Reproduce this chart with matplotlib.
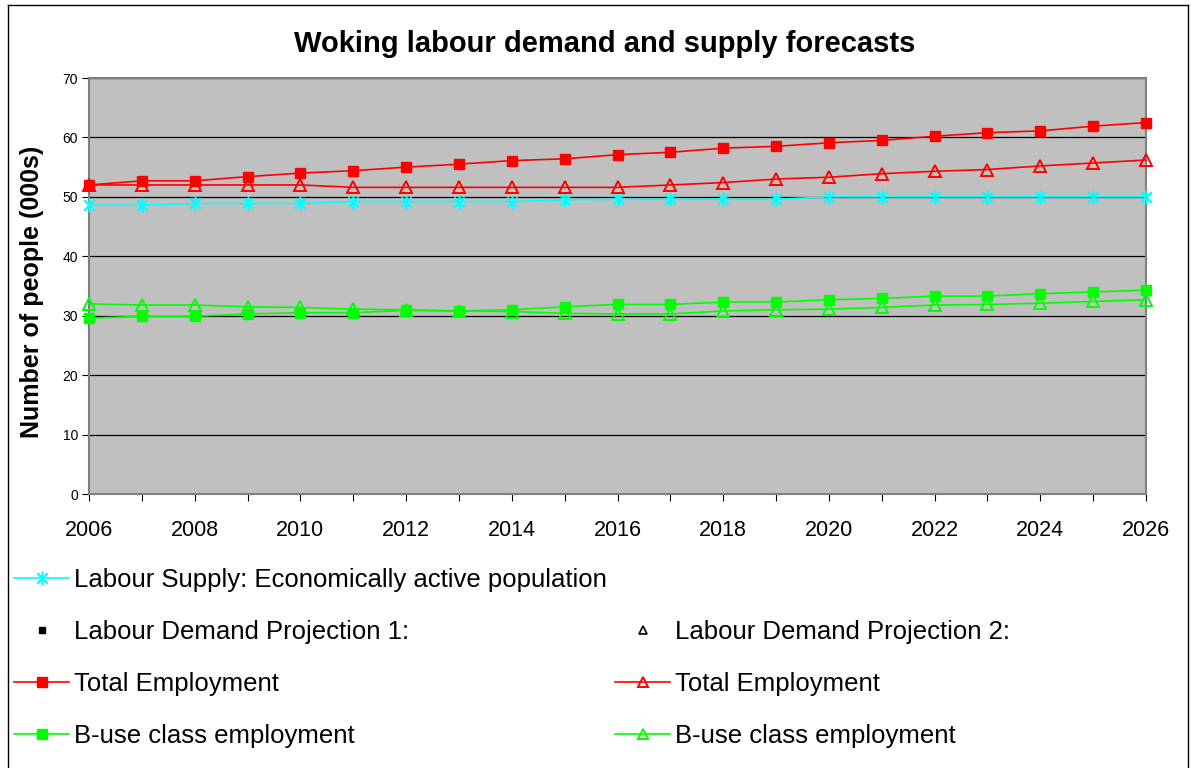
import matplotlib
matplotlib.use("Agg")
import matplotlib.pyplot as plt
from matplotlib.lines import Line2D
from matplotlib.path import Path

plt.rcParams['font.family'] = ['Liberation Sans', 'DejaVu Sans']

years = list(range(2006, 2027))
year_labels = [str(y) if y % 2 == 0 else "" for y in years]

labour_supply = [48.6, 48.6, 48.9, 48.9, 48.9, 49.2, 49.2, 49.2, 49.2, 49.5, 49.6,
                 49.6, 49.6, 49.6, 50.0, 50.0, 50.0, 50.0, 50.0, 50.0, 50.0]
p1_total = [52.0, 52.7, 52.7, 53.4, 54.0, 54.4, 55.0, 55.5, 56.1, 56.4, 57.1,
            57.5, 58.2, 58.5, 59.1, 59.5, 60.2, 60.8, 61.1, 61.9, 62.5]
p2_total = [52.0, 52.0, 52.0, 52.0, 52.0, 51.6, 51.6, 51.6, 51.6, 51.6, 51.6,
            52.0, 52.4, 53.0, 53.3, 53.9, 54.3, 54.6, 55.2, 55.7, 56.2]
p1_buse = [29.6, 29.9, 29.9, 30.3, 30.5, 30.5, 30.9, 30.8, 31.0, 31.5, 31.9,
           31.9, 32.3, 32.3, 32.7, 32.9, 33.3, 33.3, 33.7, 34.0, 34.3]
p2_buse = [32.0, 31.8, 31.8, 31.5, 31.4, 31.1, 31.0, 30.8, 30.7, 30.4, 30.3,
           30.3, 30.8, 31.0, 31.1, 31.4, 31.8, 31.9, 32.1, 32.4, 32.7]

y_ticks = list(range(0, 71, 10))

W, H = 1191, 768
fig = plt.figure(figsize=(W / 100, H / 100), dpi=100)
fig.patch.set_facecolor("white")

ax = fig.add_axes([89 / W, 1 - 494 / H, (1146 - 89) / W, (494 - 78) / H])
ax.set_facecolor("#C0C0C0")

# asterisk marker: vertical bar plus a cross
star = Path([(0, -1), (0, 1), (-0.75, -0.75), (0.75, 0.75), (-0.75, 0.75), (0.75, -0.75)],
            [Path.MOVETO, Path.LINETO, Path.MOVETO, Path.LINETO, Path.MOVETO, Path.LINETO])

RED, GREEN, CYAN = "#FF0000", "#00FF00", "#00FFFF"
lw = 1.2

ax.plot(years, labour_supply, color=CYAN, lw=lw, marker=star, ms=10,
        mew=1.6, mec=CYAN, clip_on=False, zorder=3)
ax.plot(years, p1_total, color=RED, lw=lw, marker="s", ms=7.5,
        mfc=RED, mec=RED, clip_on=False, zorder=4)
ax.plot(years, p2_total, color=RED, lw=lw, marker="^", ms=8,
        mfc="none", mec=RED, mew=1.4, clip_on=False, zorder=3)
ax.plot(years, p1_buse, color=GREEN, lw=lw, marker="s", ms=7.5,
        mfc=GREEN, mec=GREEN, clip_on=False, zorder=4)
ax.plot(years, p2_buse, color=GREEN, lw=lw, marker="^", ms=8,
        mfc="none", mec=GREEN, mew=1.4, clip_on=False, zorder=3)

ax.set_xlim(2006, 2026)
ax.set_ylim(0, 70)
ax.set_yticks(y_ticks)
ax.set_xticks(years)
ax.set_xticklabels(year_labels)
ax.yaxis.grid(True, color="black", lw=0.9)
ax.set_axisbelow(True)
ax.tick_params(axis="y", labelsize=10, length=5, direction="out", pad=3)
ax.tick_params(axis="x", labelsize=15.5, length=5, direction="out", pad=14)
for side in ("top", "right", "left", "bottom"):
    ax.spines[side].set_color("#808080")
    ax.spines[side].set_linewidth(1.5)

ax.set_ylabel("Number of people (000s)", fontsize=18, fontweight="bold")
ax.yaxis.set_label_coords(-0.043, 0.485)
fig.text(605 / W, 1 - 44 / H, "Woking labour demand and supply forecasts",
         ha="center", va="center", fontsize=21, fontweight="bold")

# legend
blank = Line2D([], [], linestyle="none", marker=None)
hdr1 = Line2D([], [], linestyle="none", marker="s", ms=5, color="black")
hdr2 = Line2D([], [], linestyle="none", marker="^", ms=6, mfc="none", mec="black", mew=1.2)
h_sup = Line2D([], [], color=CYAN, lw=lw, marker=star, ms=10, mew=1.6, mec=CYAN)
h_p1t = Line2D([], [], color=RED, lw=lw, marker="s", ms=7, mfc=RED, mec=RED)
h_p2t = Line2D([], [], color=RED, lw=lw, marker="^", ms=7, mfc="none", mec=RED, mew=1.4)
h_p1b = Line2D([], [], color=GREEN, lw=lw, marker="s", ms=7, mfc=GREEN, mec=GREEN)
h_p2b = Line2D([], [], color=GREEN, lw=lw, marker="^", ms=7, mfc="none", mec=GREEN, mew=1.4)

handles = [h_sup, hdr1, h_p1t, h_p1b, blank, hdr2, h_p2t, h_p2b]
labels = ["Labour Supply: Economically active population",
          "Labour Demand Projection 1:", "Total Employment", "B-use class employment",
          "", "Labour Demand Projection 2:", "Total Employment", "B-use class employment"]
fig.legend(handles, labels, ncol=2, loc="upper left",
           bbox_to_anchor=(14 / W, 1 - 568 / H), frameon=False, fontsize=18.5,
           handlelength=2.15, handletextpad=0.2, labelspacing=1.09,
           columnspacing=0.3, borderpad=0, borderaxespad=0)

# outer frame of the chart
for xs, ys in [((8, 8), (5, 768)), ((8, 1188), (5, 5)), ((1188, 1188), (5, 768))]:
    fig.add_artist(Line2D([x / W for x in xs], [1 - y / H for y in ys],
                          transform=fig.transFigure, color="black", lw=1.0))

fig.savefig("out.png", dpi=100)
